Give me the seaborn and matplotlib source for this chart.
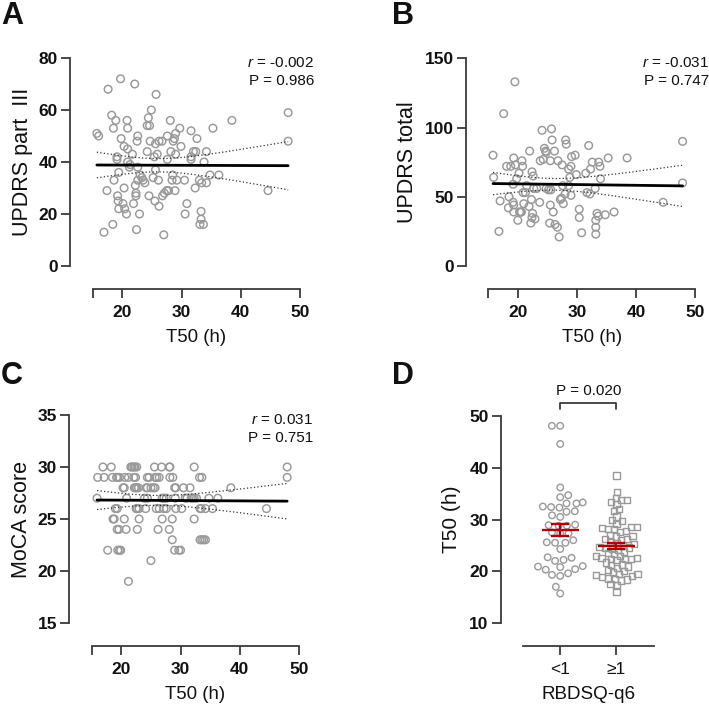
import numpy as np
import matplotlib
matplotlib.use("Agg")
import matplotlib.pyplot as plt
import seaborn as sns

# ---------------- data ----------------
# Panel A: T50 (h) vs UPDRS part III
a_x = [15.7, 16.0, 16.9, 17.4, 17.6, 18.2, 18.4, 18.5, 18.6, 18.9, 19.1, 19.1, 19.2, 19.3, 19.4,
       19.4, 19.7, 19.8, 20.1, 20.3, 20.3, 20.4, 20.7, 20.8, 20.9, 20.9, 20.9, 21.2, 21.3, 21.7,
       21.9, 22.1, 22.2, 22.3, 22.3, 22.4, 22.5, 22.6, 22.6, 22.6, 22.9, 23.0, 23.3, 23.5, 23.8,
       24.2, 24.2, 24.4, 24.5, 24.6, 24.7, 24.9, 25.2, 25.4, 25.5, 25.6, 25.6, 25.7, 25.9, 26.1,
       26.2, 26.2, 26.7, 26.8, 27.0, 27.1, 27.5, 27.6, 27.6, 27.8, 28.1, 28.2, 28.4, 28.5, 28.6,
       28.8, 28.9, 29.0, 29.0, 29.2, 29.7, 29.9, 30.5, 30.6, 30.9, 31.6, 31.6, 31.6, 32.0, 32.3,
       32.4, 32.6, 33.0, 33.1, 33.3, 33.3, 33.4, 33.7, 33.8, 34.2, 34.2, 34.8, 35.3, 36.3, 38.5,
       44.6, 48.0, 48.0]
a_y = [51, 50, 13, 29, 68, 58, 16, 53, 33, 56, 42, 41, 27, 25, 22,
       36, 72, 49, 24, 30, 46, 22, 20, 56, 53, 45, 40, 38, 39, 43,
       24, 70, 31, 28, 27, 14, 48, 50, 38, 33, 20, 35, 34, 33, 32,
       44, 54, 57, 27, 54, 48, 60, 34, 42, 25, 37, 47, 66, 43, 33,
       23, 48, 48, 27, 12, 28, 29, 41, 50, 29, 56, 44, 33, 35, 48,
       49, 29, 43, 51, 33, 53, 46, 33, 20, 24, 52, 42, 41, 44, 30,
       44, 49, 33, 16, 21, 18, 32, 16, 40, 44, 32, 35, 53, 35, 56,
       29, 59, 48]

# Panel B: T50 (h) vs UPDRS total
b_x = [15.8, 15.9, 16.8, 17.0, 17.6, 18.1, 18.4, 18.5, 18.8, 19.2, 19.2, 19.3, 19.3, 19.3, 19.5,
       19.6, 19.8, 20.0, 20.2, 20.3, 20.5, 20.6, 20.7, 20.8, 20.9, 21.0, 21.3, 21.5, 21.9, 22.0,
       22.2, 22.3, 22.4, 22.4, 22.5, 22.6, 22.7, 22.9, 23.2, 23.7, 23.8, 24.1, 24.3, 24.5, 24.7,
       24.8, 24.8, 25.2, 25.4, 25.5, 25.5, 25.6, 25.7, 25.8, 26.0, 26.2, 26.3, 26.7, 26.8, 27.0,
       27.2, 27.4, 27.5, 27.6, 27.7, 28.0, 28.1, 28.2, 28.6, 28.6, 28.8, 29.0, 29.0, 29.1, 29.7,
       29.9, 30.4, 30.4, 30.8, 31.5, 31.7, 32.0, 32.2, 32.3, 32.6, 33.1, 33.2, 33.2, 33.2, 33.4,
       33.6, 33.7, 33.9, 34.0, 34.8, 35.3, 36.3, 38.5, 44.6, 47.9, 47.9]
b_y = [80, 64, 25, 47, 110, 72, 42, 50, 72, 59, 46, 44, 78, 39, 133,
       73, 63, 33, 67, 39, 39, 39, 76, 72, 53, 45, 53, 58, 43, 83,
       31, 48, 68, 35, 38, 65, 56, 34, 56, 46, 76, 98, 77, 85, 83,
       56, 82, 55, 31, 76, 44, 55, 99, 91, 39, 83, 30, 28, 76, 21,
       48, 49, 73, 58, 45, 52, 91, 88, 58, 70, 64, 51, 72, 79, 80,
       66, 41, 35, 24, 67, 53, 87, 52, 70, 75, 56, 28, 23, 33, 38,
       36, 75, 72, 63, 37, 78, 39, 78, 46, 90, 60]

# Panel C: T50 (h) vs MoCA score
c_x = [16.9, 18.3, 21.6, 21.8, 22.1, 22.3, 22.6, 25.6, 26.8, 28.1, 28.2, 32.3, 48.0,
       16.0, 17.1, 18.5, 19.2, 19.4, 19.7, 20.6, 21.2, 22.1, 22.4, 24.4, 24.7, 25.7, 26.0,
       26.4, 28.2, 28.7, 33.2, 33.6, 48.0,
       20.3, 20.5, 22.2, 22.4, 22.6, 22.9, 24.2, 24.4, 25.0, 25.4, 25.7, 29.0, 29.2, 30.5,
       31.6, 38.5,
       15.9, 20.9, 23.9, 24.4, 26.9, 27.2, 27.6, 29.1, 30.8, 31.1, 31.8, 32.0, 32.3, 32.7,
       34.8, 36.3,
       19.0, 19.3, 22.5, 22.7, 23.0, 24.1, 25.9, 26.4, 27.2, 27.6, 29.2, 30.2, 33.3, 33.5,
       34.2, 35.4, 44.5,
       18.6, 18.8, 20.5, 23.0, 26.9, 28.6, 32.3,
       19.3, 19.6, 20.8, 22.7, 26.2, 28.1,
       28.6, 33.3, 33.6, 33.9, 34.2,
       17.7, 19.4, 19.7, 19.9, 29.0, 29.7, 30.0,
       25.0, 21.2]
c_y = [30] * 13 + [29] * 20 + [28] * 16 + [27] * 16 + [26] * 17 + [25] * 7 + [24] * 6 \
      + [23] * 5 + [22] * 7 + [21, 19]

# Panel D: T50 (h) by RBDSQ-q6 group
d_groups = ["<1", "\u22651"]
d_lt1 = [48.1, 48.1, 44.6, 36.2, 34.7, 34.3, 33.1, 33.1, 33.3, 32.5, 32.4, 32.3, 31.6, 31.5,
         30.8, 30.5, 28.8, 28.8, 28.9, 29.0, 27.3, 27.3, 27.5, 25.5, 25.5, 25.6, 26.0, 24.3,
         22.7, 22.2, 22.0, 22.6, 20.8, 21.0, 20.9, 20.4, 20.3, 19.3, 19.1, 19.6, 17.0, 15.7]
d_ge1 = [16.0, 17.4, 17.6, 18.2, 18.4, 18.5, 18.6, 18.9, 19.1, 19.2, 19.4, 19.4, 19.8, 20.1,
         20.3, 20.7, 20.9, 21.2, 21.3, 21.7, 22.1, 22.3, 22.3, 22.4, 22.5, 22.6, 22.9, 23.0,
         23.3, 23.5, 23.8, 24.2, 24.4, 24.5, 24.6, 24.7, 24.9, 25.2, 25.4, 25.7, 26.1, 26.2,
         26.2, 26.7, 26.8, 27.0, 27.6, 27.8, 28.1, 28.2, 28.4, 28.5, 28.6, 29.2, 29.7, 29.9,
         30.6, 31.6, 32.0, 33.0, 33.4, 33.7, 33.8, 34.2, 35.3, 38.5]

stats_a = ["-0.002", "0.986"]
stats_b = ["-0.031", "0.747"]
stats_c = ["0.031", "0.751"]
p_d = "P = 0.020"

# ---------------- style ----------------
sns.set_style("ticks")
FAM = ["Liberation Sans", "DejaVu Sans"]
plt.rcParams["font.family"] = FAM
plt.rcParams["mathtext.fontset"] = "custom"
plt.rcParams["mathtext.it"] = "Liberation Sans:italic"
plt.rcParams["mathtext.rm"] = "Liberation Sans"

AX_COL = "#3a3a3a"
PT_COL = "#999999"
RED = "#b40000"
W, H = 709, 706
PX = 72 / 100  # points per pixel

fig = plt.figure(figsize=(W / 100, H / 100), dpi=100)
fig.patch.set_facecolor("white")


def rect(left, right, top, bottom):
    return [left / W, 1 - bottom / H, (right - left) / W, (bottom - top) / H]


def style_axis(ax, left_px, bottom_px, bold_x=True):
    for s in ["top", "right"]:
        ax.spines[s].set_visible(False)
    ax.spines["left"].set_position(("outward", left_px * PX))
    ax.spines["bottom"].set_position(("outward", bottom_px * PX))
    for s in ["left", "bottom"]:
        ax.spines[s].set_color(AX_COL)
        ax.spines[s].set_linewidth(1.3)
    ax.tick_params(axis="both", direction="out", length=6.2, width=1.3, color=AX_COL)
    ax.tick_params(axis="y", pad=2.5)
    ax.tick_params(axis="x", pad=5.5)
    for lab in ax.get_yticklabels():
        lab.set_fontweight("bold")
        lab.set_fontsize(12.5)
        lab.set_color("#111111")
    for lab in ax.get_xticklabels():
        lab.set_fontweight("bold" if bold_x else "normal")
        lab.set_fontsize(12.5)
        lab.set_color("#111111")
    ax.set_facecolor("none")
    ax.grid(False)


def scatter_panel(ax, x, y, ylim, yticks, ylabel, stats, ylab_x):
    x = np.asarray(x, float)
    y = np.asarray(y, float)
    sns.scatterplot(x=x, y=y, ax=ax, marker="o", s=30, linewidth=1.05,
                    facecolors="none", edgecolor=PT_COL, zorder=3, clip_on=False)
    for coll in ax.collections:
        coll.set_facecolor("none")
        coll.set_edgecolor(PT_COL)
        coll.set_sizes([30])
        coll.set_linewidth(1.05)
    # regression line
    sns.regplot(x=x, y=y, ax=ax, scatter=False, ci=None, truncate=True,
                line_kws=dict(color="black", lw=2.0, zorder=4))
    # 95% confidence band of the fit, drawn as dotted lines
    n = len(x)
    b1, b0 = np.polyfit(x, y, 1)
    resid = y - (b0 + b1 * x)
    s_err = np.sqrt(np.sum(resid ** 2) / (n - 2))
    xm = x.mean()
    sxx = np.sum((x - xm) ** 2)
    xs = np.linspace(x.min(), x.max(), 100)
    yh = b0 + b1 * xs
    half = 1.984 * s_err * np.sqrt(1 / n + (xs - xm) ** 2 / sxx)
    ax.plot(xs, yh + half, ls=(0, (1, 1.8)), color="#333333", lw=0.9, zorder=4)
    ax.plot(xs, yh - half, ls=(0, (1, 1.8)), color="#333333", lw=0.9, zorder=4)

    ax.set_xlim(15, 50)
    ax.set_ylim(*ylim)
    ax.set_xticks([15, 20, 30, 40, 50])
    ax.set_xticklabels(["", "20", "30", "40", "50"])
    ax.set_yticks(yticks)
    ax.set_yticklabels([str(t) for t in yticks])
    ax.set_xlabel("T50 (h)", fontsize=13.4, color="#111111")
    ax.set_ylabel(ylabel, fontsize=15.5, color="#111111")
    ax.xaxis.set_label_coords(0.5, -0.305)
    ax.yaxis.set_label_coords(ylab_x, 0.5)
    style_axis(ax, 22.7, 23)
    ax.text(1.068, 0.976, "$r$ = " + stats[0], transform=ax.transAxes, ha="right",
            va="center", fontsize=11, color="#111111")
    ax.text(1.068, 0.889, "P = " + stats[1], transform=ax.transAxes, ha="right",
            va="center", fontsize=11, color="#111111")


axA = fig.add_axes(rect(92.7, 300, 58, 266))
axB = fig.add_axes(rect(488.3, 695, 58.3, 266))
axC = fig.add_axes(rect(91.7, 299, 415, 623))
axD = fig.add_axes(rect(522.7, 654, 416, 623))

scatter_panel(axA, a_x, a_y, (0, 80), [0, 20, 40, 60, 80], "UPDRS part  III", stats_a, -0.289)
scatter_panel(axB, b_x, b_y, (0, 150), [0, 50, 100, 150], "UPDRS total", stats_b, -0.338)
scatter_panel(axC, c_x, c_y, (15, 35), [15, 20, 25, 30, 35], "MoCA score", stats_c, -0.29)

# ---------------- panel D ----------------
sns.swarmplot(x=[d_groups[0]] * len(d_lt1), y=d_lt1, order=d_groups, ax=axD,
              marker="o", size=4.7, linewidth=1.0, edgecolor=PT_COL, color="none", zorder=3)
sns.swarmplot(x=[d_groups[1]] * len(d_ge1), y=d_ge1, order=d_groups, ax=axD,
              marker="s", size=3.2, linewidth=1.0, edgecolor=PT_COL, color="none", zorder=3)
swarm_colls = list(axD.collections)

for i, vals in enumerate([d_lt1, d_ge1]):
    v = np.asarray(vals)
    m = v.mean()
    se = v.std(ddof=1) / np.sqrt(len(v))
    axD.hlines(m, i - 0.325, i + 0.325, color=RED, lw=1.7, zorder=6)
    axD.vlines(i, m - se, m + se, color=RED, lw=1.7, zorder=6)
    axD.hlines([m - se, m + se], i - 0.16, i + 0.16, color=RED, lw=1.7, zorder=6)

axD.set_xlim(-0.667, 1.667)
axD.set_ylim(10, 50)
axD.set_yticks([10, 20, 30, 40, 50])
axD.set_yticklabels(["10", "20", "30", "40", "50"])
axD.set_xticks([0, 1])
axD.set_xticklabels(d_groups)
axD.set_xlabel("RBDSQ-q6", fontsize=13.6, color="#111111")
axD.set_ylabel("T50 (h)", fontsize=15, color="#111111")
axD.xaxis.set_label_coords(0.5, -0.305)
axD.yaxis.set_label_coords(-0.47, 0.5)
style_axis(axD, 22, 23, bold_x=False)
for lab in axD.get_xticklabels():
    lab.set_fontsize(12.5)
axD.plot([0, 0, 1, 1], [51.3, 52.6, 52.6, 51.3], color=AX_COL, lw=1.3, clip_on=False)
axD.text(0.5, 54.8, p_d, ha="center", va="center", fontsize=11, color="#111111")

# panel letters
for lx, ly, letter in [(1, 1, "A"), (392, 1, "B"), (1, 361, "C"), (392, 361, "D")]:
    fig.text(lx / W, 1 - ly / H, letter, fontsize=22, fontweight="bold",
             ha="left", va="top", color="#111111")

# let seaborn lay out the swarms, then freeze positions and set final marker sizes
fig.canvas.draw()
for k, coll in enumerate(swarm_colls):
    if "draw" in coll.__dict__:
        del coll.__dict__["draw"]
    coll.set_facecolor("none")
    coll.set_edgecolor(PT_COL)
    coll.set_linewidth(1.0)
    coll.set_sizes([22] if k == 0 else [20])

fig.savefig("out.png", dpi=100, facecolor="white")
